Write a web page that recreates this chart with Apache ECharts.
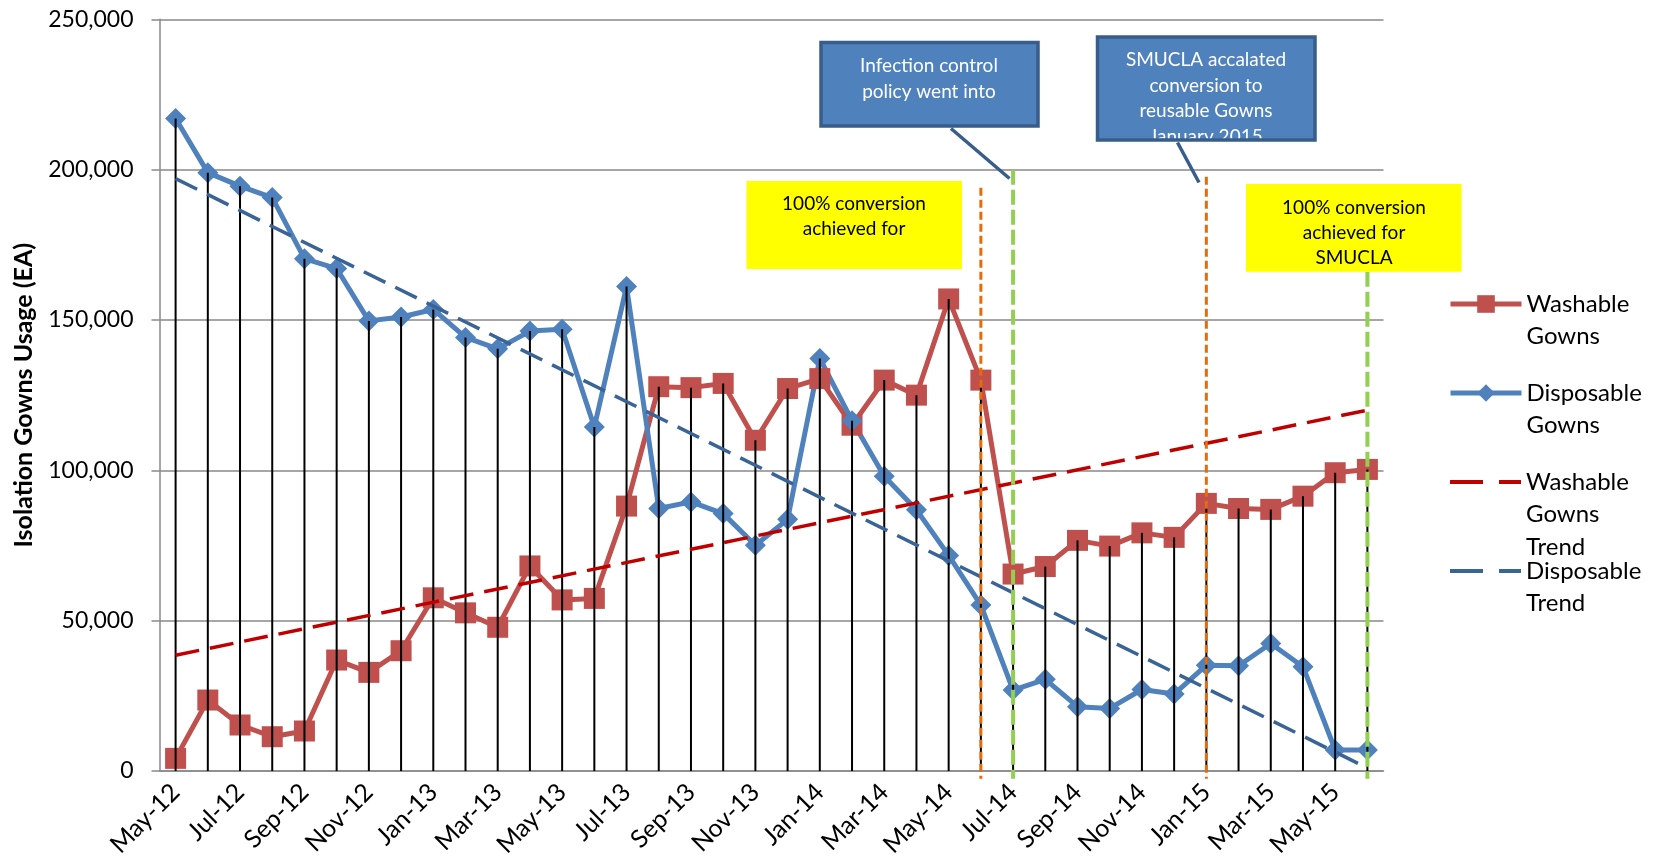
<!DOCTYPE html>
<html>
<head>
<meta charset="utf-8">
<script src="https://cdn.jsdelivr.net/npm/echarts@6/dist/echarts.min.js"></script>
<style>
html, body { margin: 0; padding: 0; background: #fff; }
#chart { width: 1658px; height: 867px; }
</style>
</head>
<body>
<div id="chart"></div>
<script>
//月份（横坐标）
var months = ['May-12', 'Jun-12', 'Jul-12', 'Aug-12', 'Sep-12', 'Oct-12', 'Nov-12', 'Dec-12',
	'Jan-13', 'Feb-13', 'Mar-13', 'Apr-13', 'May-13', 'Jun-13', 'Jul-13', 'Aug-13', 'Sep-13', 'Oct-13', 'Nov-13', 'Dec-13',
	'Jan-14', 'Feb-14', 'Mar-14', 'Apr-14', 'May-14', 'Jun-14', 'Jul-14', 'Aug-14', 'Sep-14', 'Oct-14', 'Nov-14', 'Dec-14',
	'Jan-15', 'Feb-15', 'Mar-15', 'Apr-15', 'May-15', 'Jun-15'];
//可洗隔离衣
var washable = [4200, 23600, 15300, 11400, 13300, 36900, 32800, 40000, 57600, 52600, 47800, 68200,
	56900, 57400, 88100, 127800, 127500, 128900, 110000, 127200, 130500, 115000, 130000, 125000,
	157000, 130000, 65500, 68000, 76700, 74800, 79200, 77700, 89000, 87300, 87000, 91400, 99200, 100300];
//一次性隔离衣
var disposable = [217000, 199000, 194500, 190700, 170400, 167100, 149700, 151000, 153500, 144200, 140400, 146300,
	146900, 114400, 161100, 87300, 89500, 85600, 75100, 83700, 137200, 116500, 98000, 86900,
	71700, 55200, 26900, 30500, 21400, 20800, 27100, 25600, 35200, 35000, 42400, 34700, 7000, 7000];
//趋势线（首月、末月）
var washableTrend = [38500, 120000];
var disposableTrend = [197000, 1000];
//竖虚线：月份、顶端数值、种类（0橙色 1绿色）
var markLines = [['Jun-14', 194000, 0], ['Jan-15', 197600, 0], ['Jul-14', 200000, 1], ['Jun-15', 166000, 1]];
var markBottom = -2600;
//纵轴刻度
var yMin = 0, yMax = 250000, yStep = 50000;
//图例
var legendNames = ['Washable Gowns', 'Disposable Gowns', 'Washable Gowns Trend', 'Disposable Trend'];
var legendLabels = ['Washable\nGowns', 'Disposable\nGowns', 'Washable\nGowns\nTrend', 'Disposable\nTrend'];

var FONT = 'Lato';
var LH = 32.5;
var legendIconY = [304, 393, 482, 571];
var markStyles = [
	{ stroke: '#E46C0A', lineWidth: 3, lineDash: [8, 4] },
	{ stroke: '#92D050', lineWidth: 4, lineDash: [15, 5] }
];

//垂线：每月两条线中较高的值
var dropValues = [];
for (var i = 0; i < months.length; i++) {
	dropValues.push(Math.max(washable[i], disposable[i]));
}

//多行图例：前面补空行，使图标对齐第一行
function padLabel(label) {
	var lines = label.split('\n');
	var pad = [];
	for (var k = 1; k < lines.length; k++) pad.push(' ');
	return pad.concat(lines).join('\n');
}

var legends = legendNames.map(function(name, i) {
	var lines = legendLabels[i].split('\n').length;
	var h = (2 * lines - 1) * LH;
	var isTrend = i >= 2;
	var item = { name: name };
	if (isTrend) item.itemStyle = { opacity: 0 };
	return {
		orient: 'vertical',
		left: 1448,
		top: legendIconY[i] - h / 2,
		padding: 0,
		itemWidth: 71,
		itemHeight: 22,
		itemGap: 0,
		selectedMode: false,
		data: [item],
		lineStyle: isTrend ? { width: 4, type: [33, 16] } : { width: 5 },
		formatter: function(n) { return padLabel(legendLabels[legendNames.indexOf(n)]); },
		textStyle: { fontFamily: FONT, fontSize: 24, lineHeight: LH, color: '#000' }
	};
});

function boxText(lines, cx, y0, step, color) {
	return lines.map(function(t, k) {
		return {
			type: 'text', z: 101,
			style: {
				text: t, x: cx, y: y0 + k * step, align: 'center', verticalAlign: 'middle',
				fill: color, font: '19px ' + FONT
			}
		};
	});
}

var graphics = [];
//黄色标注框
graphics.push({ type: 'rect', z: 100, shape: { x: 746.5, y: 181, width: 215.5, height: 88 }, style: { fill: '#FFFF00' } });
graphics = graphics.concat(boxText(['100% conversion', 'achieved for'], 854, 204, 25.3, '#000'));
graphics.push({ type: 'rect', z: 100, shape: { x: 1246, y: 184, width: 215.5, height: 87.7 }, style: { fill: '#FFFF00' } });
graphics = graphics.concat(boxText(['100% conversion', 'achieved for', 'SMUCLA'], 1354, 207.7, 25.3, '#000'));
//蓝色标注框1
graphics.push({ type: 'rect', z: 100, shape: { x: 821, y: 42.5, width: 217, height: 83.5 }, style: { fill: '#4F81BD', stroke: '#385D8A', lineWidth: 3.5 } });
graphics = graphics.concat(boxText(['Infection control', 'policy went into'], 929, 65.7, 26, '#fff'));
graphics.push({ type: 'line', z: 102, shape: { x1: 951, y1: 128.5, x2: 1009.5, y2: 178.5 }, style: { stroke: '#385D8A', lineWidth: 3.5 } });
//蓝色标注框2
graphics.push({ type: 'rect', z: 100, shape: { x: 1097.5, y: 37, width: 217.5, height: 103 }, style: { fill: '#4F81BD' } });
graphics = graphics.concat(boxText(['SMUCLA accalated', 'conversion to', 'reusable Gowns', 'January 2015'], 1206, 60.3, 25.5, '#fff'));
graphics.push({ type: 'rect', z: 102, shape: { x: 1097.5, y: 37, width: 217.5, height: 103 }, style: { fill: null, stroke: '#385D8A', lineWidth: 3.5 } });
graphics.push({ type: 'rect', z: 102, shape: { x: 1094, y: 142, width: 225, height: 10 }, style: { fill: '#fff' } });
graphics.push({ type: 'line', z: 103, shape: { x1: 1177.5, y1: 142.5, x2: 1199, y2: 182.5 }, style: { stroke: '#385D8A', lineWidth: 3.5 } });

var chart = echarts.init(document.getElementById('chart'));
var option = {
	animation: false,
	backgroundColor: '#fff',
	textStyle: { fontFamily: FONT },
	grid: { left: 159.5, right: 274.5, top: 19.3, bottom: 96 },
	legend: legends,
	xAxis: {
		type: 'category',
		data: months,
		boundaryGap: true,
		axisLine: { lineStyle: { color: '#898989', width: 1.5 } },
		axisTick: { show: false },
		axisLabel: { interval: 1, rotate: 45, margin: 17, fontSize: 25, fontFamily: FONT, color: '#000' },
		splitLine: { show: false }
	},
	yAxis: {
		type: 'value',
		min: yMin, max: yMax, interval: yStep,
		name: 'Isolation Gowns Usage (EA)',
		nameLocation: 'middle',
		nameGap: 123,
		nameTextStyle: { fontFamily: FONT, fontSize: 25, fontWeight: 'bold', color: '#000' },
		axisLine: { show: true, lineStyle: { color: '#898989', width: 1.5 } },
		axisTick: { show: true, length: 8, lineStyle: { color: '#898989', width: 1.5 } },
		axisLabel: {
			margin: 26, fontSize: 23, fontFamily: FONT, color: '#000',
			formatter: function(v) { return v.toLocaleString('en-US'); }
		},
		splitLine: { lineStyle: { color: '#898989', width: 1.5 } }
	},
	series: [{
		name: 'Washable Gowns',
		type: 'line',
		data: washable,
		symbol: 'rect',
		symbolSize: 21,
		lineStyle: { color: '#C0504D', width: 5 },
		itemStyle: { color: '#C0504D' },
		z: 2
	}, {
		name: 'Disposable Gowns',
		type: 'line',
		data: disposable,
		symbol: 'diamond',
		symbolSize: [21, 21],
		lineStyle: { color: '#4F81BD', width: 5 },
		itemStyle: { color: '#4F81BD' },
		z: 2
	}, {
		name: 'drop',
		type: 'bar',
		data: dropValues,
		barWidth: 2,
		itemStyle: { color: '#000' },
		silent: true,
		z: 3
	}, {
		name: 'Washable Gowns Trend',
		type: 'line',
		data: [[months[0], washableTrend[0]], [months[months.length - 1], washableTrend[1]]],
		symbol: 'none',
		lineStyle: { color: '#C00000', width: 3.5, type: [24, 11] },
		itemStyle: { color: '#C00000' },
		z: 4
	}, {
		name: 'Disposable Trend',
		type: 'line',
		data: [[months[0], disposableTrend[0]], [months[months.length - 1], disposableTrend[1]]],
		symbol: 'none',
		lineStyle: { color: '#3A6496', width: 3.5, type: [24, 11] },
		itemStyle: { color: '#3A6496' },
		z: 4
	}, {
		name: 'marks',
		type: 'custom',
		data: markLines,
		silent: true,
		clip: false,
		z: 5,
		renderItem: function(params, api) {
			var x = api.value(0);
			var p1 = api.coord([x, api.value(1)]);
			var p2 = api.coord([x, markBottom]);
			var s = markStyles[api.value(2)];
			return {
				type: 'line',
				shape: { x1: p1[0], y1: p1[1], x2: p2[0], y2: p2[1] },
				style: { stroke: s.stroke, lineWidth: s.lineWidth, lineDash: s.lineDash, fill: null }
			};
		}
	}],
	graphic: graphics
};
chart.setOption(option);
</script>
</body>
</html>
